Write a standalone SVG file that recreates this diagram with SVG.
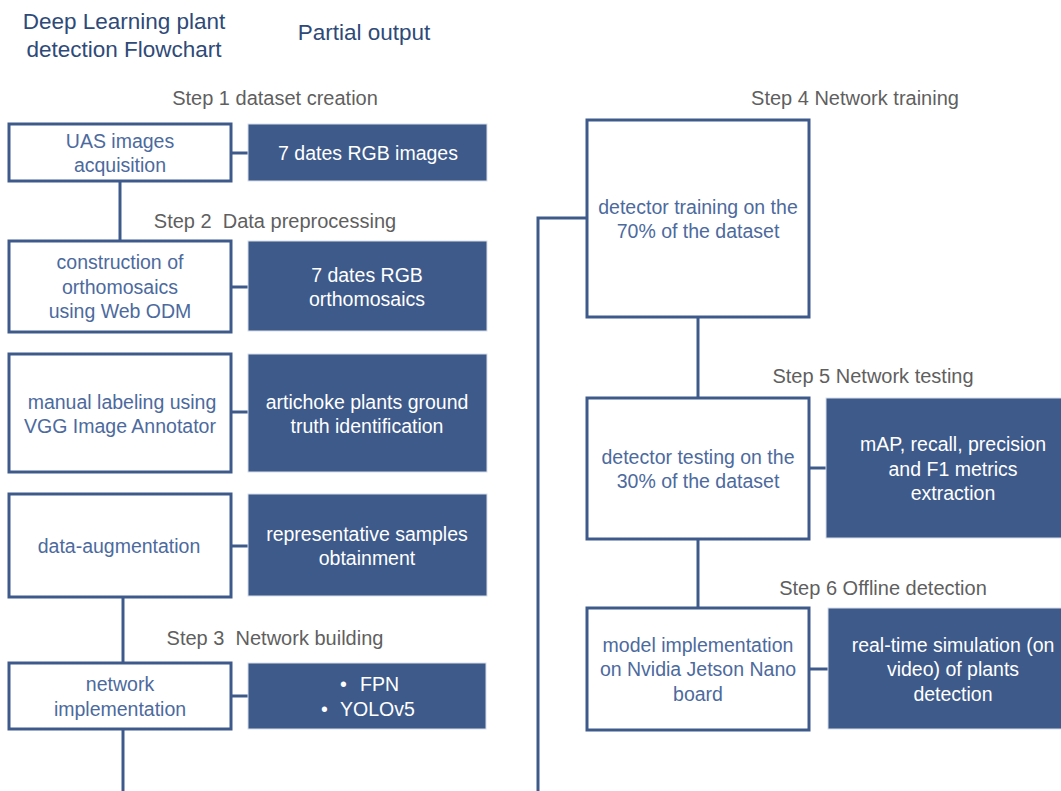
<svg xmlns="http://www.w3.org/2000/svg" width="1061" height="791" viewBox="0 0 1061 791">
<style>
text{font-family:"Liberation Sans",Arial,sans-serif;font-size:19.5px;text-anchor:middle}
.title{font-size:22.5px;fill:#2E4A78}
.step{fill:#5F5F5F;font-size:20px}
.box{fill:#FFFFFF;stroke:#3E5A8A;stroke-width:3}
.bt{fill:#4C6A9E}
.out{fill:#3E5A8A;stroke:#D8DEE8;stroke-width:1}
.ot{fill:#FFFFFF}
.conn{stroke:#3E5A8A;stroke-width:3;fill:none}
</style>
<rect width="1061" height="791" fill="#FFFFFF"/>
<g id="titles">
<text class="title" x="124" y="29">Deep Learning plant</text>
<text class="title" x="124" y="57">detection Flowchart</text>
<text class="title" x="364" y="40">Partial output</text>
<text class="step" x="275" y="105">Step 1 dataset creation</text>
<text class="step" x="275" y="228" xml:space="preserve">Step 2  Data preprocessing</text>
<text class="step" x="275" y="645" xml:space="preserve">Step 3  Network building</text>
<text class="step" x="855" y="105">Step 4 Network training</text>
<text class="step" x="873" y="383">Step 5 Network testing</text>
<text class="step" x="883" y="595">Step 6 Offline detection</text>
</g>
<g id="connectors">
<line class="conn" x1="231" y1="153" x2="248" y2="153"/>
<line class="conn" x1="120" y1="181" x2="120" y2="241"/>
<line class="conn" x1="231" y1="287" x2="248" y2="287"/>
<line class="conn" x1="231" y1="412" x2="248" y2="412"/>
<line class="conn" x1="231" y1="546" x2="248" y2="546"/>
<line class="conn" x1="123" y1="597" x2="123" y2="663"/>
<line class="conn" x1="231" y1="696" x2="248" y2="696"/>
<line class="conn" x1="123" y1="729" x2="123" y2="791"/>
<polyline class="conn" points="586,218 538,218 538,791"/>
<line class="conn" x1="698" y1="317" x2="698" y2="398"/>
<line class="conn" x1="810" y1="468" x2="826" y2="468"/>
<line class="conn" x1="698" y1="539" x2="698" y2="608"/>
<line class="conn" x1="810" y1="669" x2="828" y2="669"/>
</g>
<g id="uas">
<rect class="box" x="9" y="124" width="222" height="57"/>
<text class="bt" x="120" y="148">UAS images</text>
<text class="bt" x="120" y="172">acquisition</text>
</g>
<g id="rgb-images">
<rect class="out" x="248" y="124" width="239" height="57"/>
<text class="ot" x="368" y="160">7 dates RGB images</text>
</g>
<g id="ortho">
<rect class="box" x="9" y="241" width="222" height="91"/>
<text class="bt" x="120" y="269">construction of</text>
<text class="bt" x="120" y="294">orthomosaics</text>
<text class="bt" x="120" y="318">using Web ODM</text>
</g>
<g id="rgb-ortho">
<rect class="out" x="248" y="241" width="239" height="90"/>
<text class="ot" x="367" y="282">7 dates RGB</text>
<text class="ot" x="367" y="306">orthomosaics</text>
</g>
<g id="labeling">
<rect class="box" x="9" y="354" width="222" height="118"/>
<text class="bt" x="122" y="409">manual labeling using</text>
<text class="bt" x="120" y="433">VGG Image Annotator</text>
</g>
<g id="ground-truth">
<rect class="out" x="248" y="354" width="239" height="118"/>
<text class="ot" x="367" y="409">artichoke plants ground</text>
<text class="ot" x="367" y="433">truth identification</text>
</g>
<g id="augmentation">
<rect class="box" x="9" y="494" width="222" height="103"/>
<text class="bt" x="119" y="553">data-augmentation</text>
</g>
<g id="samples">
<rect class="out" x="248" y="494" width="239" height="102"/>
<text class="ot" x="367" y="541">representative samples</text>
<text class="ot" x="367" y="565">obtainment</text>
</g>
<g id="network">
<rect class="box" x="9" y="663" width="222" height="66"/>
<text class="bt" x="120" y="691">network</text>
<text class="bt" x="120" y="716">implementation</text>
</g>
<g id="models">
<rect class="out" x="248" y="663" width="238" height="66"/>
<text class="ot" x="340" y="691" style="text-anchor:start">•</text>
<text class="ot" x="360" y="691" style="text-anchor:start">FPN</text>
<text class="ot" x="321" y="716" style="text-anchor:start">•</text>
<text class="ot" x="340" y="716" style="text-anchor:start">YOLOv5</text>
</g>
<g id="training">
<rect class="box" x="587" y="120" width="222" height="197"/>
<text class="bt" x="698" y="214">detector training on the</text>
<text class="bt" x="698" y="238">70% of the dataset</text>
</g>
<g id="testing">
<rect class="box" x="587" y="398" width="222" height="141"/>
<text class="bt" x="698" y="464">detector testing on the</text>
<text class="bt" x="698" y="488">30% of the dataset</text>
</g>
<g id="metrics">
<rect class="out" x="826" y="398" width="240" height="140"/>
<text class="ot" x="953" y="451">mAP, recall, precision</text>
<text class="ot" x="953" y="476">and F1 metrics</text>
<text class="ot" x="953" y="500">extraction</text>
</g>
<g id="jetson">
<rect class="box" x="587" y="608" width="222" height="122"/>
<text class="bt" x="698" y="652">model implementation</text>
<text class="bt" x="698" y="676">on Nvidia Jetson Nano</text>
<text class="bt" x="698" y="701">board</text>
</g>
<g id="simulation">
<rect class="out" x="828" y="608" width="238" height="121"/>
<text class="ot" x="953" y="652">real-time simulation (on</text>
<text class="ot" x="953" y="676">video) of plants</text>
<text class="ot" x="953" y="701">detection</text>
</g>
</svg>
